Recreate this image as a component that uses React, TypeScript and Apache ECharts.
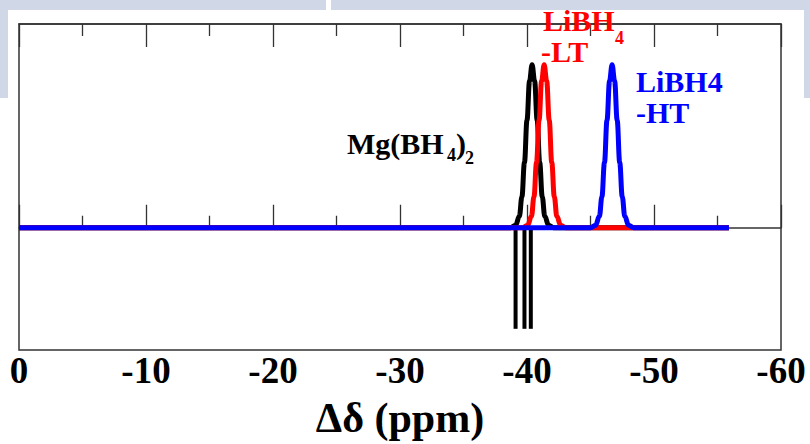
import React, { useEffect, useRef } from 'react';
import * as echarts from 'echarts';

// x-axis ticks (chemical shift, ppm)
const tickValues = [0, -10, -20, -30, -40, -50, -60];
const tickLabels = ['0', '-10', '-20', '-30', '-40', '-50', '-60'];

// Mg(BH4)2 peak (black)
const mgPeak: [number, number][] = [
  [-55.9, 0], [-42.1, 0], [-41.7, 0.015], [-41.4, 0.07], [-41.2, 0.19], [-41.0, 0.4],
  [-40.8, 0.66], [-40.6, 0.9], [-40.4, 1.0], [-40.2, 0.9], [-40.0, 0.66],
  [-39.8, 0.4], [-39.6, 0.19], [-39.4, 0.07], [-39.1, 0.015], [-38.7, 0], [0, 0],
];
// LiBH4-LT peak (red)
const ltPeak: [number, number][] = [
  [-55.9, 0], [-43.05, 0], [-42.65, 0.015], [-42.35, 0.07], [-42.15, 0.19], [-41.95, 0.4],
  [-41.75, 0.66], [-41.55, 0.9], [-41.35, 1.0], [-41.15, 0.9], [-40.95, 0.66],
  [-40.75, 0.4], [-40.55, 0.19], [-40.35, 0.07], [-40.05, 0.015], [-39.65, 0], [0, 0],
];
// LiBH4-HT peak (blue)
const htPeak: [number, number][] = [
  [-55.9, 0], [-48.4, 0], [-48.0, 0.015], [-47.7, 0.07], [-47.5, 0.19], [-47.3, 0.4],
  [-47.1, 0.66], [-46.9, 0.9], [-46.7, 1.0], [-46.5, 0.9], [-46.3, 0.66],
  [-46.1, 0.4], [-45.9, 0.19], [-45.7, 0.07], [-45.4, 0.015], [-45.0, 0], [0, 0],
];
// Mg(BH4)2 stick spectrum
const mgSticks = [-39.1, -39.8, -40.3];
const stickDepth = -0.62;

const SERIF = '"Liberation Serif", "Times New Roman", serif';
const BAND = '#d0d8e7';

export default function App() {
  const ref = useRef<HTMLDivElement>(null);
  useEffect(() => {
    if (!ref.current) return;
    const chart = echarts.init(ref.current, null, { renderer: 'svg' });
    const axisColor = '#333';
    const baseX = {
      type: 'value',
      min: -60,
      max: 0,
      interval: 10,
      inverse: true,
      axisLine: { show: true, lineStyle: { color: axisColor, width: 1.5 } },
      axisTick: { show: true, inside: true, length: 23, lineStyle: { color: axisColor, width: 1.3 } },
      minorTick: { show: true, splitNumber: 2, length: 12, lineStyle: { color: axisColor, width: 1.3 } },
      splitLine: { show: false },
      minorSplitLine: { show: false },
    };
    const curve = (data: [number, number][], color: string, z: number) => ({
      type: 'line',
      data,
      showSymbol: false,
      smooth: 0.4,
      smoothMonotone: 'x',
      z,
      lineStyle: { color, width: 5, join: 'round' },
      silent: true,
    });
    const txt = (text: string, x: number, y: number, color: string, size = 30) => ({
      type: 'text',
      x,
      y,
      z: 50,
      style: {
        text,
        fill: color,
        font: `bold ${size}px ${SERIF}`,
        textAlign: 'left',
        textVerticalAlign: 'middle',
      },
    });
    chart.setOption({
      animation: false,
      backgroundColor: '#fff',
      grid: {
        left: 19,
        top: 24,
        right: 29,
        bottom: 91,
        show: true,
        borderColor: axisColor,
        borderWidth: 1.5,
      },
      xAxis: [
        {
          ...baseX,
          position: 'bottom',
          axisLabel: {
            show: true,
            margin: 2,
            showMinLabel: true,
            showMaxLabel: true,
            color: '#000',
            fontFamily: SERIF,
            fontWeight: 'bold',
            fontSize: 37,
            formatter: (v: number) => {
              const i = tickValues.indexOf(v);
              return i >= 0 ? tickLabels[i] : '';
            },
          },
          name: 'Δδ (ppm)',
          nameLocation: 'middle',
          nameGap: 47,
          nameTextStyle: { color: '#000', fontFamily: SERIF, fontWeight: 'bold', fontSize: 42 },
        },
        { ...baseX, position: 'top', axisLabel: { show: false } },
      ],
      yAxis: { type: 'value', min: -0.75, max: 1.25, show: false },
      series: [
        ...mgSticks.map((x) => ({
          type: 'line',
          data: [[x, 0], [x, stickDepth]],
          showSymbol: false,
          z: 1,
          lineStyle: { color: '#000', width: 4 },
          silent: true,
        })),
        curve(mgPeak, '#000000', 2),
        curve(ltPeak, '#ff0000', 3),
        curve(htPeak, '#0000ff', 4),
      ],
      graphic: [
        { type: 'rect', z: -10, shape: { x: 0, y: 0, width: 326, height: 10 }, style: { fill: BAND } },
        { type: 'rect', z: -10, shape: { x: 331, y: 0, width: 479, height: 10 }, style: { fill: BAND } },
        { type: 'rect', z: -10, shape: { x: 0, y: 0, width: 8, height: 98 }, style: { fill: BAND } },
        { type: 'rect', z: -10, shape: { x: 804, y: 0, width: 6, height: 98 }, style: { fill: BAND } },
        txt('LiBH', 543, 20.5, '#ff0000'),
        txt('4', 615, 37.5, '#ff0000', 18),
        txt('-LT', 541, 51, '#ff0000'),
        txt('LiBH4', 636, 81, '#0000ff'),
        txt('-HT', 636, 112, '#0000ff'),
        txt('Mg(BH', 347, 143.5, '#000000'),
        txt('4', 447, 155, '#000000', 18),
        txt(')', 456, 143.5, '#000000'),
        txt('2', 465, 157.5, '#000000', 18),
      ],
    });
    return () => chart.dispose();
  }, []);
  return (
    <div
      ref={ref}
      style={{ position: 'absolute', left: 0, top: 0, width: 810, height: 444 }}
    />
  );
}
